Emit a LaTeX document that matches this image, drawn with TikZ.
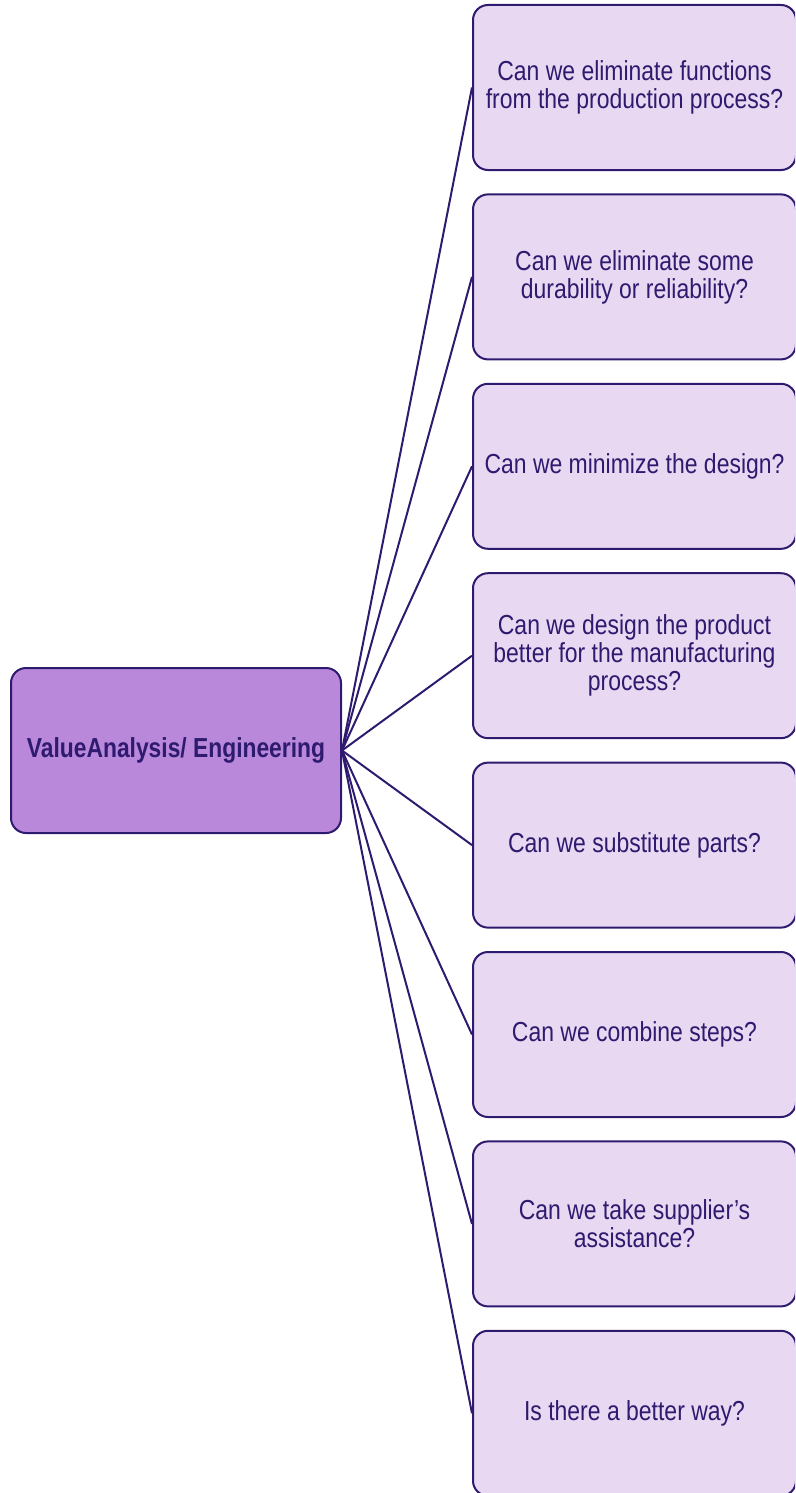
\documentclass[tikz,border=0pt]{standalone}
\usepackage{fontspec}
\setmainfont{Liberation Sans}[FakeStretch=0.835]
\newfontfamily\rootfont{Liberation Sans}[FakeStretch=0.83]
\definecolor{navy}{HTML}{2E1A6E}
\definecolor{rootfill}{HTML}{B988DB}
\definecolor{leaffill}{HTML}{E8D8F2}
\begin{document}
\begin{tikzpicture}[x=1pt,y=-1pt,
  rootbox/.style={draw=navy,line width=2pt,fill=rootfill,rounded corners=15pt,
    minimum width=330pt,minimum height=165pt,inner sep=0pt,
    text=navy,font=\fontsize{27.5}{28}\rootfont\bfseries,align=center},
  leafbox/.style={draw=navy,line width=2pt,fill=leaffill,rounded corners=15pt,
    minimum width=323pt,minimum height=165pt,inner sep=0pt,
    text=navy,font=\fontsize{27.5}{28}\selectfont,align=center},
  link/.style={draw=navy,line width=2pt}]
\useasboundingbox (0,0) rectangle (795,1493);
\clip (0,0) rectangle (795,1493);
\node[rootbox] (root) at (176,750.5) {ValueAnalysis/ Engineering};
\node[leafbox] (c1) at (634.5,87.5+0*189.4) {Can we eliminate functions\\from the production process?};
\node[leafbox] (c2) at (634.5,87.5+1*189.4) {Can we eliminate some\\durability or reliability?};
\node[leafbox] (c3) at (634.5,87.5+2*189.4) {Can we minimize the design?};
\node[leafbox] (c4) at (634.5,87.5+3*189.4) {Can we design the product\\better for the manufacturing\\process?};
\node[leafbox] (c5) at (634.5,87.5+4*189.4) {Can we substitute parts?};
\node[leafbox] (c6) at (634.5,87.5+5*189.4) {Can we combine steps?};
\node[leafbox] (c7) at (634.5,87.5+6*189.4) {Can we take supplier’s\\assistance?};
\node[leafbox] (c8) at (634.5,87.5+7*189.4) {Is there a better way?};
\foreach \i in {1,...,8}{
  \draw[link] (root.east) -- (c\i.west);
}
\end{tikzpicture}
\end{document}
